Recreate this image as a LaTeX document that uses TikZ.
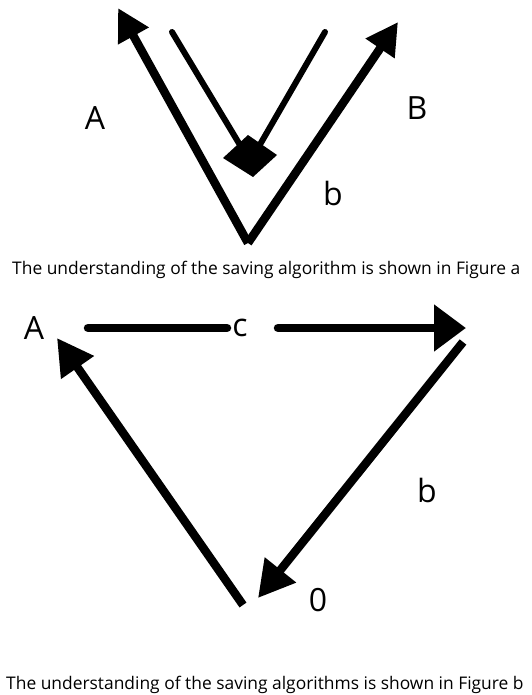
\documentclass[tikz,border=0pt]{standalone}
\usepackage{fontspec}
\setmainfont{Open Sans}
\usetikzlibrary{arrows.meta}
\begin{document}
\begin{tikzpicture}[x=1pt,y=-1pt,
  thick line/.style={line width=8.5pt},
  thin line/.style={line width=6pt,line cap=round},
  bigtip/.style={-{Triangle[length=32pt,width=33pt]}},
  lbl/.style={font=\fontsize{32}{36}\selectfont,inner sep=0pt},
  captext/.style={font=\fontsize{17.4}{20}\selectfont,inner sep=0pt,anchor=base west}]
\useasboundingbox (0,0) rectangle (531,695);
% ---- Figure a ----
\coordinate (v) at (248,243);
\coordinate (ta) at (118,8);
\coordinate (tb) at (398,22);
\draw[thick line,bigtip] (v) -- (ta);
\draw[thick line,bigtip] (v) -- (tb);
\coordinate (il) at (172,32);
\coordinate (ir) at (325,32);
\coordinate (dl) at (243,150);
\coordinate (dr) at (258,148);
\draw[thin line] (il) -- (dl);
\draw[thin line] (ir) -- (dr);
\fill (248,135) -- (223,158) -- (253,177) -- (277,155) -- cycle;
\node[lbl] (A1) at (95,118) {A};
\node[lbl] (B1) at (417,108) {B};
\node[lbl] (b1) at (333,193) {b};
\node[captext] (c1) at (12,274) {The understanding of the saving algorithm is shown in Figure a};
% ---- Figure b ----
\node[lbl] (A2) at (34,328) {A};
\node[lbl] (c) at (240,328) {c};
\node[lbl] (b2) at (427,490) {b};
\node[lbl] (z) at (318,600) {0};
\coordinate (h1) at (88,328);
\coordinate (h2) at (227,328);
\coordinate (h3) at (278,328);
\coordinate (h4) at (466,328);
\coordinate (r1) at (463,342);
\coordinate (r2) at (258,598);
\coordinate (l1) at (243,605);
\coordinate (l2) at (57,338);
\draw[thick line,line cap=round] (h1) -- (h2);
\draw[thick line,line cap=round,-{Triangle[length=32pt,width=45pt]}] (h3) -- (h4);
\draw[thick line,-{Triangle[length=36pt,width=38pt]}] (r1) -- (r2);
\draw[thick line,-{Triangle[length=36pt,width=38pt]}] (l1) -- (l2);
\node[captext] (c2) at (6,689) {The understanding of the saving algorithms is shown in Figure b};
\end{tikzpicture}
\end{document}
